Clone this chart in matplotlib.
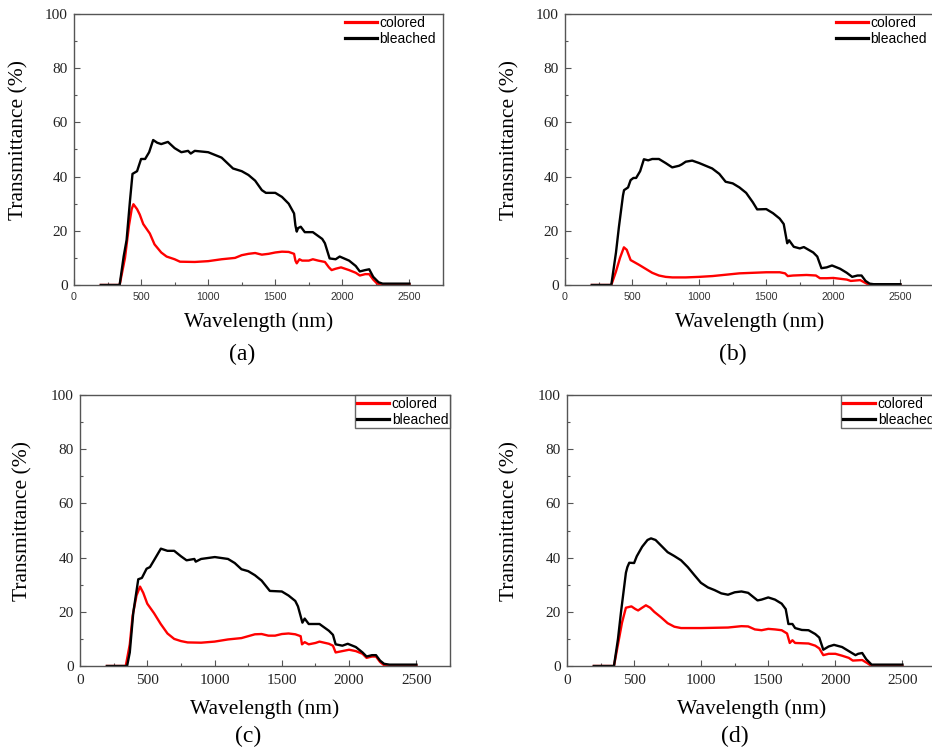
import matplotlib
matplotlib.use("Agg")
import matplotlib.pyplot as plt
from matplotlib.ticker import MultipleLocator
import matplotlib.transforms as mtransforms

# ---------------- data ----------------
# (a)
wl_a_bleached = [200, 340, 370, 392, 417, 436, 470, 500, 530, 560, 590, 620, 650, 700, 750, 800, 850, 870,
                 900, 1000, 1100, 1185, 1250, 1300, 1350, 1400, 1430, 1500, 1550, 1600, 1640, 1650, 1660,
                 1670, 1690, 1720, 1780, 1850, 1870, 1905, 1950, 1980, 2050, 2100, 2130, 2170, 2200, 2230,
                 2270, 2300, 2500]
t_a_bleached = [0, 0, 10.5, 16.6, 31, 41, 42, 46.5, 46.5, 49, 53.5, 52.5, 52, 52.8, 50.5, 49, 49.5, 48.5,
                49.5, 49, 47, 43, 42, 40.6, 38.5, 35, 34, 34, 32.5, 30, 26.4, 22, 19.7,
                21, 21.5, 19.5, 19.5, 17, 15.4, 9.8, 9.5, 10.5, 9, 7, 5, 5.5, 5.8, 3,
                1, 0.5, 0.5]
wl_a_colored = [200, 340, 380, 410, 430, 443, 470, 490, 516, 565, 600, 650, 690, 750, 790, 900, 1000, 1100,
                1200, 1250, 1300, 1350, 1400, 1450, 1500, 1550, 1600, 1640, 1650, 1660, 1680, 1700, 1750,
                1780, 1820, 1870, 1900, 1920, 1950, 1990, 2050, 2100, 2130, 2170, 2200, 2230, 2260, 2300, 2500]
t_a_colored = [0, 0, 10, 22, 28, 29.8, 28, 26, 22.5, 19, 15, 12, 10.5, 9.5, 8.6, 8.5, 8.8, 9.5,
               10, 11, 11.5, 11.8, 11.2, 11.5, 12, 12.3, 12.2, 11.5, 9, 8, 9.5, 9, 9,
               9.5, 9, 8.5, 6.5, 5.5, 6, 6.5, 5.5, 4.5, 3.5, 4, 4, 2, 0.5, 0.2, 0.2]

# (b)
wl_b_bleached = [200, 345, 380, 402, 432, 440, 470, 489, 510, 530, 560, 588, 620, 650, 700, 750, 799, 850,
                 870, 900, 948, 1000, 1097, 1150, 1197, 1250, 1300, 1350, 1400, 1432, 1500, 1550, 1600,
                 1630, 1656, 1670, 1705, 1750, 1780, 1850, 1880, 1911, 1950, 1990, 2050, 2100, 2140, 2180,
                 2210, 2240, 2270, 2300, 2500]
t_b_bleached = [0, 0, 12, 21.5, 33, 35, 36, 38.7, 39.5, 39.5, 42, 46.4, 46, 46.5, 46.5, 45, 43.4, 44,
                44.5, 45.5, 45.9, 45, 43, 41, 38.1, 37.5, 36, 34, 30.5, 27.9, 28, 26.5, 24.5,
                22.5, 15.4, 16.5, 14.1, 13.5, 14, 12, 10.5, 6.2, 6.5, 7.2, 6, 4.5, 3, 3.5,
                3.5, 1.5, 0.5, 0.3, 0.3]
wl_b_colored = [200, 345, 380, 410, 439, 460, 489, 550, 600, 650, 700, 750, 800, 900, 1000, 1100, 1200,
                1300, 1400, 1500, 1600, 1640, 1660, 1700, 1800, 1870, 1900, 1950, 2000, 2100, 2130, 2200,
                2230, 2260, 2500]
t_b_colored = [0, 0, 5, 10, 13.9, 13, 9.2, 7.5, 6, 4.5, 3.5, 3, 2.8, 2.8, 3, 3.3, 3.8,
               4.3, 4.5, 4.7, 4.7, 4.3, 3.3, 3.5, 3.7, 3.5, 2.5, 2.5, 2.6, 2.0, 1.5, 1.8,
               1, 0.2, 0]

# (c)
wl_c_bleached = [200, 350, 370, 396, 433, 460, 495, 520, 550, 601, 650, 700, 750, 792, 850, 860, 900, 1002,
                 1100, 1150, 1200, 1250, 1300, 1350, 1411, 1500, 1550, 1600, 1620, 1653, 1670, 1700, 1750,
                 1780, 1850, 1880, 1900, 1950, 1990, 2050, 2100, 2130, 2170, 2200, 2230, 2260, 2300, 2500]
t_c_bleached = [0, 0, 5, 19.7, 32, 32.5, 35.9, 36.5, 39, 43.3, 42.5, 42.5, 40.5, 39, 39.5, 38.5, 39.5, 40.2,
                39.5, 38, 35.7, 35, 33.5, 31.5, 27.7, 27.5, 26, 24, 22, 16, 17.5, 15.5, 15.5,
                15.5, 13, 11.5, 8, 7.5, 8.2, 7, 5, 3.5, 4, 4, 2, 0.8, 0.5, 0.5]
wl_c_colored = [200, 340, 370, 391, 420, 446, 470, 500, 550, 600, 650, 700, 750, 800, 900, 1000, 1100,
                1200, 1250, 1300, 1350, 1400, 1450, 1500, 1550, 1600, 1640, 1650, 1670, 1700, 1750, 1780,
                1850, 1880, 1900, 1950, 2000, 2050, 2100, 2130, 2170, 2200, 2230, 2260, 2500]
t_c_colored = [0, 0, 8, 18.5, 26, 29.3, 27, 23, 19.5, 15.5, 12, 10, 9.2, 8.7, 8.6, 9, 9.8,
               10.3, 11, 11.7, 11.8, 11.2, 11.2, 11.8, 12, 11.7, 11, 8, 8.8, 8, 8.5, 9,
               8.2, 7.5, 5, 5.5, 6, 5.5, 4.5, 3, 3.5, 3.5, 1.5, 0.3, 0.2]

# (d)
wl_d_bleached = [200, 350, 380, 402, 439, 450, 464, 500, 520, 560, 600, 626, 660, 700, 750, 799, 850, 900,
                 950, 998, 1050, 1100, 1150, 1200, 1250, 1300, 1350, 1400, 1420, 1450, 1500, 1550, 1600,
                 1630, 1650, 1680, 1700, 1750, 1800, 1850, 1880, 1910, 1950, 1990, 2050, 2100, 2150, 2170,
                 2200, 2230, 2270, 2300, 2500]
t_d_bleached = [0, 0, 10, 19.7, 34.4, 36.5, 38.1, 38, 40.5, 44, 46.5, 47.1, 46.5, 44.5, 42, 40.6, 39, 36.5,
                33.5, 30.7, 29, 28, 26.8, 26.3, 27.2, 27.5, 27, 25, 24.2, 24.5, 25.3, 24.5, 23,
                21, 15.5, 15.5, 14, 13.3, 13.2, 11.8, 10.5, 6, 7.2, 7.8, 7, 5.5, 4, 4.5,
                4.8, 2.5, 0.5, 0.5, 0.5]
wl_d_colored = [200, 350, 380, 410, 439, 480, 510, 530, 560, 588, 620, 650, 700, 750, 800, 850, 1000,
                1200, 1300, 1350, 1400, 1450, 1500, 1550, 1600, 1640, 1660, 1680, 1700, 1800, 1850, 1880,
                1910, 1950, 2000, 2050, 2100, 2130, 2200, 2240, 2270, 2500]
t_d_colored = [0, 0, 8, 16, 21.5, 22, 21, 20.5, 21.5, 22.4, 21.5, 20, 18, 15.8, 14.5, 14, 14,
               14.2, 14.7, 14.6, 13.5, 13.2, 13.7, 13.5, 13.2, 12, 8.5, 9.5, 8.5, 8.3, 7.5, 6.5,
               4, 4.5, 4.5, 3.8, 3, 2, 2.2, 1, 0, 0]

panel_labels = ["(a)", "(b)", "(c)", "(d)"]
series_names = ["colored", "bleached"]
x_ticks = [0, 500, 1000, 1500, 2000, 2500]
y_ticks = [0, 20, 40, 60, 80, 100]

# ---------------- figure ----------------
W, H = 932, 752
fig = plt.figure(figsize=(W / 100, H / 100), dpi=100)

SERIF = ["Liberation Serif", "DejaVu Serif"]
SANS = ["Liberation Sans", "DejaVu Sans"]

# pixel boxes: left, top, right, bottom
boxes = [(74, 14, 443, 285), (565, 14, 934, 285), (80, 395, 450, 666), (567, 395, 936, 666)]
data = [
    (wl_a_colored, t_a_colored, wl_a_bleached, t_a_bleached),
    (wl_b_colored, t_b_colored, wl_b_bleached, t_b_bleached),
    (wl_c_colored, t_c_colored, wl_c_bleached, t_c_bleached),
    (wl_d_colored, t_d_colored, wl_d_bleached, t_d_bleached),
]
spine_col = "#555555"

for i, (box, d) in enumerate(zip(boxes, data)):
    l, t, r, b = box
    ax = fig.add_axes([l / W, 1 - b / H, (r - l) / W, (b - t) / H])
    wc, tc, wb, tb = d
    ax.plot(wc, tc, color="#ff0000", lw=1.7, label=series_names[0])
    ax.plot(wb, tb, color="black", lw=1.7, label=series_names[1])
    ax.set_xlim(0, 2750)
    ax.set_ylim(0, 100)
    ax.set_xticks(x_ticks)
    ax.set_yticks(y_ticks)
    ax.xaxis.set_minor_locator(MultipleLocator(250))
    ax.yaxis.set_minor_locator(MultipleLocator(10))
    for s in ax.spines.values():
        s.set_color(spine_col)
        s.set_linewidth(1.0)
    ax.tick_params(which="both", direction="in", top=False, right=False, color=spine_col, width=0.8)
    ax.tick_params(which="major", length=4)
    ax.tick_params(which="minor", length=2.5)
    ax.tick_params(axis="y", pad=4.5)
    for lab in ax.get_yticklabels():
        lab.set_fontfamily(SERIF)
        lab.set_fontsize(11)
        lab.set_color("#222222")
    top_row = i < 2
    if top_row:
        ax.tick_params(axis="x", pad=5)
        for lab in ax.get_xticklabels():
            lab.set_fontfamily(SANS)
            lab.set_fontsize(7.7)
            lab.set_color("#333333")
    else:
        ax.tick_params(axis="x", pad=5.5)
        for lab in ax.get_xticklabels():
            lab.set_fontfamily(SERIF)
            lab.set_fontsize(11)
            lab.set_color("#222222")

    hpx = b - t
    wpx = r - l
    ax.set_ylabel("Transmittance (%)", fontfamily=SERIF, fontsize=15.5, va="center")
    ax.yaxis.set_label_coords(-(55 if top_row else 57) / wpx, 0.535)
    ax.set_xlabel("Wavelength (nm)", fontfamily=SERIF, fontsize=15.5, va="center")
    ax.xaxis.set_label_coords(0.5, -(37 if top_row else 43) / hpx)
    trans = mtransforms.blended_transform_factory(ax.transData, ax.transAxes)
    ax.text(1250, -(69 if top_row else 70) / hpx, panel_labels[i], transform=trans,
            ha="center", va="center", fontfamily=SERIF, fontsize=17)

    if top_row:
        leg = ax.legend(loc="upper right", bbox_to_anchor=(1 - 5 / wpx, 1.0), frameon=False,
                        prop={"family": SANS, "size": 10}, handlelength=2.3, handletextpad=0.2,
                        labelspacing=0.15, borderpad=0.15, borderaxespad=0)
    else:
        leg = ax.legend(loc="upper right", bbox_to_anchor=(1.0, 1.0), frameon=True, fancybox=False,
                        prop={"family": SANS, "size": 10}, handlelength=2.3, handletextpad=0.2,
                        labelspacing=0.15, borderpad=0.12, borderaxespad=0)
        leg.get_frame().set_edgecolor("#444444")
        leg.get_frame().set_linewidth(1.0)
    for line in leg.get_lines():
        line.set_linewidth(2.3)

fig.savefig("out.png", dpi=100)
